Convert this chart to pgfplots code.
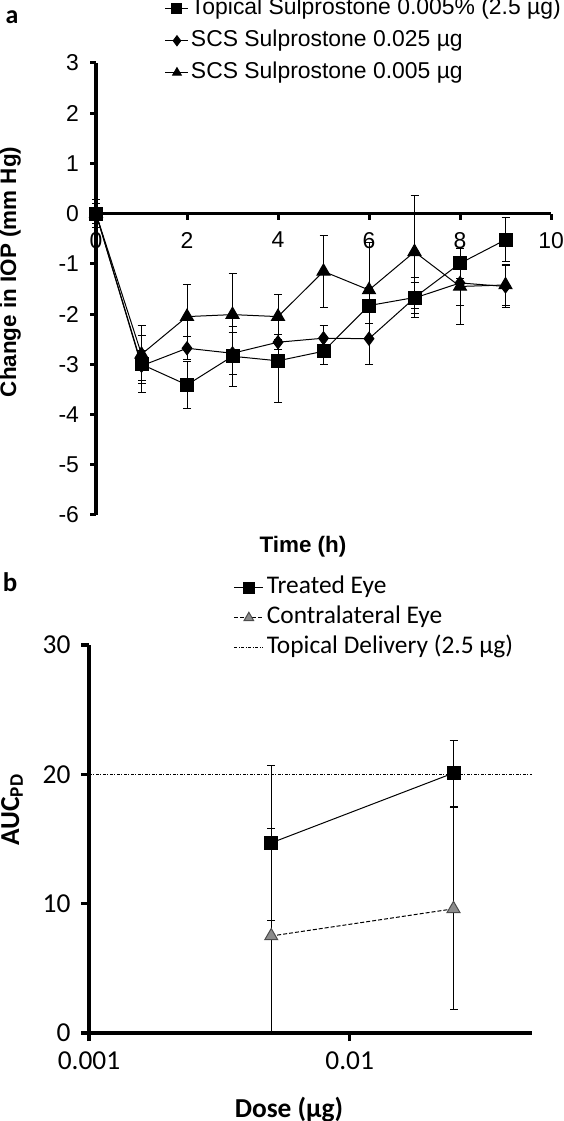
\documentclass[border=0pt]{standalone}
\usepackage{fontspec}
\setmainfont{Liberation Sans}
\newfontfamily\calibri{Carlito}
\usepackage{pgfplots}
\pgfplotsset{compat=1.18}

\pgfplotstableread{
t y e
0 0 0.28
1 -3.0 0.57
2 -3.41 0.46
3 -2.84 0.6
4 -2.93 0.83
5 -2.74 0.26
6 -1.83 0.35
7 -1.67 0.4
8 -0.99 0.3
9 -0.52 0.44
}\topical
\pgfplotstableread{
t y e
0 0 0.2
1 -3.03 0.3
2 -2.68 0.23
3 -2.78 0.42
4 -2.56 0.15
5 -2.48 0.25
6 -2.49 0.52
7 -1.68 0.3
8 -1.38 0.45
9 -1.45 0.42
}\scshigh
\pgfplotstableread{
t y e
0 0 0.2
1 -2.8 0.58
2 -2.05 0.63
3 -2.01 0.82
4 -2.05 0.45
5 -1.15 0.72
6 -1.52 0.95
7 -0.76 1.12
8 -1.45 0.75
9 -1.42 0.4
}\scslow

\begin{document}
\begin{tikzpicture}[x=1bp,y=1bp]
\useasboundingbox (0,0) rectangle (564,1121);

% ---------------- panel a ----------------
\begin{axis}[
  at={(96bp,606bp)}, anchor=south west, scale only axis,
  width=455bp, height=452bp,
  xmin=0, xmax=10, ymin=-6, ymax=3, clip=false,
  axis x line=middle, axis y line=left,
  every inner x axis line/.append style={-},
  every outer x axis line/.append style={-},
  every inner y axis line/.append style={-},
  every outer y axis line/.append style={-},
  axis line style={line width=3.5bp, black},
  xtick={0,2,4,6,8,10}, xticklabels={0,2,4,6,8,10},
  ytick={-6,-5,-4,-3,-2,-1,0,1,2,3},
  yticklabels={-6,-5,-4,-3,-2,-1,0,1,2,3},
  tick align=outside, major tick length=6bp,
  tick style={line width=3bp, black},
  hide obscured x ticks=false, hide obscured y ticks=false,
  xticklabel style={font=\fontsize{23}{25}\selectfont, yshift=-9bp},
  yticklabel style={font=\fontsize{23}{25}\selectfont, xshift=-7.5bp},
  every axis plot/.append style={line width=1bp, black},
  error bars/y dir=both, error bars/y explicit,
  error bars/error bar style={line width=1bp, black},
  error bars/error mark options={rotate=90, line width=1bp, mark size=4bp, black},
  legend cell align=left,
  legend image code/.code={\draw[mark repeat=2, mark phase=2, mark size=5bp, #1]
     plot coordinates {(0bp,0bp) (11.5bp,0bp) (23bp,0bp)};},
  legend style={at={(rel axis cs:0.1516,1.1438)}, anchor=north west,
     draw=none, fill=none, inner sep=0pt, outer sep=0pt,
     row sep=10.5bp, column sep=2bp,
     font=\fontsize{23}{25}\selectfont,
     nodes={inner sep=0pt, text height=16.5bp, text depth=5bp}},
]
\addplot[mark=square*, mark size=6.5bp] table[x=t, y=y, y error=e] {\topical};
\addlegendentry{Topical Sulprostone 0.005\% (2.5 µg)}
\addplot[mark=diamond*, mark size=6.5bp] table[x=t, y=y, y error=e] {\scshigh};
\addlegendentry{SCS Sulprostone 0.025 µg}
\addplot[mark=triangle*, mark size=7.5bp] table[x=t, y=y, y error=e] {\scslow};
\addlegendentry{SCS Sulprostone 0.005 µg}
\end{axis}

\node[font=\calibri\bfseries\fontsize{26}{28}\selectfont] at (12,1104) {a};
\node[rotate=90, anchor=base, font=\bfseries\fontsize{22.5}{24}\selectfont] at (16,849) {Change in IOP (mm Hg)};
\node[anchor=base, font=\bfseries\fontsize{22.5}{24}\selectfont] at (303,568) {Time (h)};

% ---------------- panel b ----------------
\begin{axis}[
  at={(89bp,88bp)}, anchor=south west, scale only axis,
  width=443bp, height=388bp,
  xmode=log, log basis x=10, xmin=0.001, xmax=0.05, ymin=0, ymax=30,
  clip mode=individual,
  axis lines=left,
  every inner x axis line/.append style={-},
  every outer x axis line/.append style={-},
  every inner y axis line/.append style={-},
  every outer y axis line/.append style={-},
  axis line style={line width=4bp, black},
  xtick={0.001,0.01}, xticklabels={0.001,0.01}, xminorticks=false,
  ytick={0,10,20,30}, yticklabels={0,10,20,30},
  tick align=outside, major tick length=8bp,
  tick style={line width=3.5bp, black},
  xticklabel style={font=\calibri\fontsize{27.5}{30}\selectfont, yshift=-7bp},
  yticklabel style={font=\calibri\fontsize{27.5}{30}\selectfont, xshift=-7bp},
  every axis plot/.append style={line width=1bp, black},
  error bars/y dir=both, error bars/y explicit,
  error bars/error bar style={line width=1bp, black, solid},
  error bars/error mark options={rotate=90, line width=1bp, mark size=4bp, black, solid},
  legend cell align=left,
  legend image code/.code={\draw[mark repeat=2, mark phase=2, mark size=5.5bp, #1]
     plot coordinates {(0bp,0bp) (14.5bp,0bp) (29bp,0bp)};},
  legend style={at={(rel axis cs:0.327,1.175)}, anchor=north west,
     draw=none, fill=none, inner sep=0pt, outer sep=0pt,
     row sep=8.6bp, column sep=3bp,
     font=\calibri\fontsize{25.5}{28}\selectfont,
     nodes={inner sep=0pt, text height=16.4bp, text depth=5bp}},
]
\addplot[mark=square*, mark size=6.5bp] coordinates {
  (0.005,14.7) +- (0,6.0)
  (0.025,20.1) +- (0,2.55)
};
\addlegendentry{Treated Eye}
\addplot[dash pattern=on 4bp off 2bp, mark=triangle*, mark size=7.5bp,
  mark options={solid, fill=black!45, draw=black!70}] coordinates {
  (0.005,7.5) +- (0,8.3)
  (0.025,9.6) +- (0,7.8)
};
\addlegendentry{Contralateral Eye}
\addplot[line width=0.9bp, dash pattern=on 3bp off 1.5bp on 1bp off 1.5bp] coordinates {(0.001,20) (0.05,20)};
\addlegendentry{Topical Delivery (2.5 µg)}
\end{axis}

\node[font=\calibri\bfseries\fontsize{27}{29}\selectfont] at (10,539) {b};
\node[rotate=90, anchor=base, font=\calibri\bfseries\fontsize{27.5}{30}\selectfont] at (19,311) {AUC\textsubscript{PD}};
\node[anchor=base, font=\calibri\bfseries\fontsize{27.5}{30}\selectfont] at (289,3) {Dose (µg)};
\end{tikzpicture}
\end{document}
